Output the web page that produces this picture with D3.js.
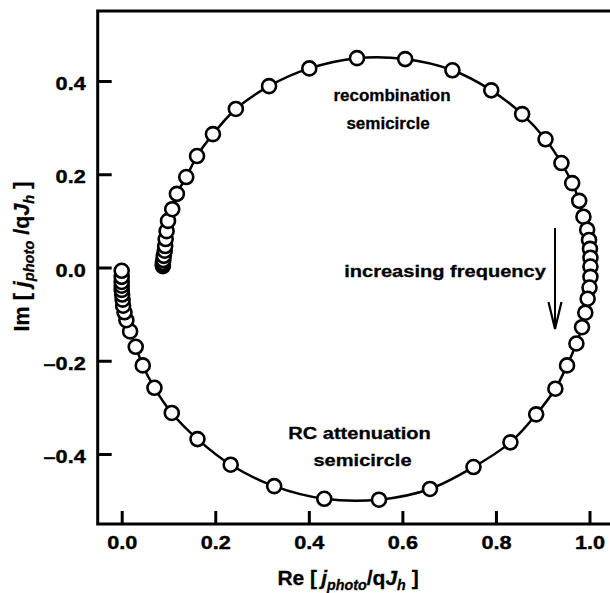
<!DOCTYPE html>
<html>
<head>
<meta charset="utf-8">
<script src="https://cdn.jsdelivr.net/npm/d3@7"></script>
<style>
  body { margin: 0; background: #fff; }
  svg { display: block; font-family: 'Liberation Sans', Arial, sans-serif; font-weight: bold; }
</style>
</head>
<body>
<svg id="chart" width="610" height="593"></svg>
<script>
// recombination semicircle, low frequency end first: [Re, Im]
const recombination = [
    [0.088, 0.003], [0.088, 0.006], [0.088, 0.010], [0.089, 0.016], [0.090, 0.025],
    [0.092, 0.036], [0.093, 0.046], [0.094, 0.061], [0.096, 0.078], [0.099, 0.100],
    [0.108, 0.125], [0.118, 0.158], [0.138, 0.194], [0.161, 0.239], [0.195, 0.286],
    [0.244, 0.340], [0.315, 0.389], [0.401, 0.427], [0.503, 0.449], [0.606, 0.447],
    [0.707, 0.423], [0.790, 0.380], [0.856, 0.329], [0.906, 0.275], [0.940, 0.224],
    [0.963, 0.181], [0.978, 0.143], [0.987, 0.109], [0.995, 0.081], [0.999, 0.059],
    [1.001, 0.040], [1.002, 0.021], [1.002, 0.002]
];

// RC attenuation semicircle, continuing to the high frequency end
const attenuation = [
    [1.002, -0.020], [1.000, -0.043], [0.996, -0.067], [0.991, -0.097], [0.984, -0.128],
    [0.972, -0.163], [0.952, -0.210], [0.927, -0.260], [0.886, -0.315], [0.831, -0.375],
    [0.752, -0.428], [0.659, -0.475], [0.550, -0.498], [0.433, -0.496], [0.326, -0.469],
    [0.233, -0.423], [0.162, -0.368], [0.107, -0.312], [0.070, -0.258], [0.045, -0.210],
    [0.030, -0.170], [0.018, -0.137], [0.010, -0.113], [0.006, -0.096], [0.003, -0.082],
    [0.002, -0.069], [0.001, -0.058], [0.000, -0.048], [0.000, -0.039], [0.000, -0.031],
    [0.000, -0.020], [0.000, -0.007]
];

const xTicks = [0, 0.2, 0.4, 0.6, 0.8, 1.0];
const yTicks = [-0.4, -0.2, 0, 0.2, 0.4];

const svg = d3.select('#chart');
const frame = { left: 97.7, top: 11, right: 612, bottom: 524 };
const stretch = 1.14;

const x = d3.scaleLinear().domain([0, 1]).range([121.7, 589.5]);
const y = d3.scaleLinear().domain([-0.4, 0.4]).range([454, 81]);

// frame (right side falls just outside the picture)
svg.append('rect')
    .attr('x', frame.left).attr('y', frame.top)
    .attr('width', frame.right - frame.left).attr('height', frame.bottom - frame.top)
    .attr('fill', 'none').attr('stroke', '#000').attr('stroke-width', 3);

const fmt = (d) => d3.format('.1f')(d).replace('−', '\u2013');

const xAxis = svg.append('g')
    .attr('transform', `translate(0, ${frame.bottom})`)
    .call(d3.axisBottom(x).tickValues(xTicks).tickFormat(fmt)
        .tickSizeInner(-13).tickSizeOuter(0).tickPadding(12));

const yAxis = svg.append('g')
    .attr('transform', `translate(${frame.left}, 0)`)
    .call(d3.axisLeft(y).tickValues(yTicks).tickFormat(fmt)
        .tickSizeInner(-14).tickSizeOuter(0).tickPadding(12));

[xAxis, yAxis].forEach((g) => {
    g.select('.domain').remove();
    g.selectAll('line').attr('stroke', '#000').attr('stroke-width', 3);
    g.selectAll('text')
        .attr('fill', '#000')
        .attr('stroke', '#000')
        .attr('stroke-width', 0.4)
        .style('font-size', '19px')
        .style('font-family', "'Liberation Sans', Arial, sans-serif")
        .style('font-weight', 'bold');
});
yAxis.selectAll('text').attr('dy', '0.45em').each(function () {
    const t = d3.select(this);
    const x0 = +t.attr('x');
    t.attr('x', 0).attr('transform', `translate(${x0},0) scale(${stretch},1)`);
});
xAxis.selectAll('text').attr('transform', `scale(${stretch},1)`);

// fitted curve through both semicircles
const line = d3.line()
    .x((d) => x(d[0]))
    .y((d) => y(d[1]))
    .curve(d3.curveCatmullRom.alpha(0.5));

svg.append('path')
    .datum(recombination.concat(attenuation))
    .attr('d', line)
    .attr('fill', 'none')
    .attr('stroke', '#000')
    .attr('stroke-width', 2.5);

svg.append('g')
    .selectAll('circle')
    .data(recombination.concat(attenuation))
    .join('circle')
    .attr('cx', (d) => x(d[0]))
    .attr('cy', (d) => y(d[1]))
    .attr('r', 7)
    .attr('fill', '#fff')
    .attr('stroke', '#000')
    .attr('stroke-width', 2.6);

// annotations
function note(text, cx, by, size, sx) {
    svg.append('text')
        .attr('transform', `translate(${cx},${by}) scale(${sx},1)`)
        .attr('text-anchor', 'middle')
        .attr('stroke', '#000')
        .attr('stroke-width', 0.3)
        .style('font-size', `${size}px`)
        .text(text);
}
note('recombination', 392, 101, 17, 1.0);
note('semicircle', 388, 129, 17, 1.0);
note('increasing frequency', 445, 277, 17, 1.18);
note('RC attenuation', 359.5, 439, 17, 1.18);
note('semicircle', 362.5, 466, 17, 1.18);

// frequency arrow
svg.append('line')
    .attr('x1', 555).attr('y1', 228).attr('x2', 555).attr('y2', 326)
    .attr('stroke', '#000').attr('stroke-width', 2);
svg.append('path')
    .attr('d', 'M548.5,302 L555,329 L561.5,302')
    .attr('fill', 'none').attr('stroke', '#000').attr('stroke-width', 2.2);

// axis titles with italic symbols and subscripts
function axisTitle(parts, transform, size) {
    const t = svg.append('text')
        .attr('transform', transform)
        .attr('text-anchor', 'middle')
        .attr('stroke', '#000')
        .attr('stroke-width', 0.3)
        .style('font-size', `${size}px`);
    parts.forEach(([s, italic, sub]) => {
        t.append('tspan')
            .text(s)
            .style('font-style', italic ? 'italic' : 'normal')
            .style('font-size', sub === 1 ? `${size * 0.68}px` : `${size}px`)
            .attr('dy', sub === 1 ? 5 : sub === -1 ? -5 : 0);
    });
}
// sub: 1 = drop into subscript, -1 = return to baseline
axisTitle([
    ['Re [\u2009', false, 0], ['j', true, 0], ['photo', true, 1],
    ['/q', false, -1], ['J', true, 0], ['h', true, 1], [' ]', false, -1]
], 'translate(348,585)', 21);

axisTitle([
    ['Im [ ', false, 0], ['j', true, 0], ['photo', true, 1],
    [' /q', false, -1], ['J', true, 0], ['h', true, 1], [' ]', false, -1]
], 'translate(29,256.5) rotate(-90)', 21.5);
</script>
</body>
</html>
